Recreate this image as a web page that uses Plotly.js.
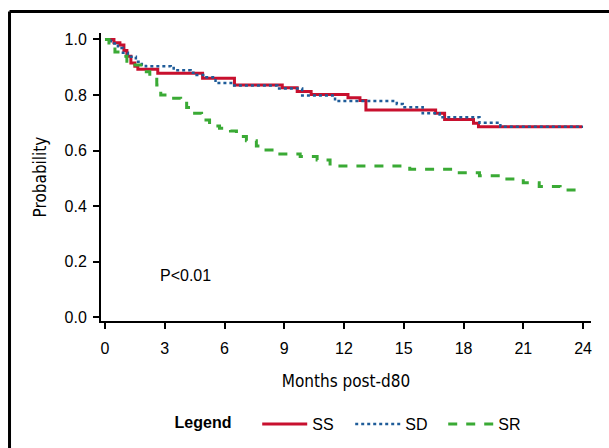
<!DOCTYPE html>
<html>
<head>
<meta charset="utf-8">
<script src="https://cdn.plot.ly/plotly-3.0.1.min.js"></script>
<style>html,body{margin:0;padding:0;background:#fff;}#chart{width:609px;height:448px;}</style>
</head>
<body>
<div id="chart"></div>
<script>
// Kaplan-Meier style step data (months post-d80, probability)
const ssMonths = [0, 0.45, 0.75, 0.95, 1.1, 1.3, 1.5, 1.65, 2.65, 4.9, 6.5, 8.9, 9.65, 10.35, 12.2, 12.8, 13.1, 16.6, 17.05, 18.5, 18.75, 23.95];
const ssProb   = [1.0, 0.988, 0.98, 0.96, 0.94, 0.915, 0.904, 0.893, 0.878, 0.86, 0.836, 0.826, 0.813, 0.802, 0.79, 0.78, 0.746, 0.734, 0.712, 0.698, 0.686, 0.686];

const sdMonths = [0, 0.3, 0.65, 0.9, 1.15, 1.55, 1.85, 2.05, 3.3, 3.45, 4.3, 4.6, 5.0, 5.55, 6.4, 8.65, 9.9, 11.55, 14.65, 14.95, 15.95, 16.8, 18.8, 19.85, 24.0];
const sdProb   = [1.0, 0.986, 0.969, 0.952, 0.938, 0.92, 0.91, 0.904, 0.897, 0.889, 0.88, 0.872, 0.864, 0.843, 0.834, 0.823, 0.798, 0.778, 0.768, 0.756, 0.734, 0.72, 0.70, 0.686, 0.686];

const srMonths = [0, 0.2, 0.5, 0.8, 1.1, 1.4, 1.9, 2.25, 2.6, 2.8, 3.3, 3.8, 4.1, 4.5, 4.85, 5.25, 5.75, 6.3, 6.6, 7.1, 7.6, 8.0, 8.5, 9.8, 10.65, 11.3, 15.3, 17.6, 18.8, 20.0, 21.0, 21.8, 22.85, 24.0];
const srProb   = [1.0, 0.975, 0.955, 0.94, 0.922, 0.908, 0.884, 0.863, 0.836, 0.80, 0.788, 0.777, 0.755, 0.734, 0.71, 0.688, 0.68, 0.67, 0.65, 0.635, 0.616, 0.602, 0.587, 0.578, 0.566, 0.544, 0.532, 0.52, 0.509, 0.497, 0.484, 0.47, 0.458, 0.458];

const seriesNames = ['SS', 'SD', 'SR'];
const xTicks = [0, 3, 6, 9, 12, 15, 18, 21, 24];
const yTicks = [0.0, 0.2, 0.4, 0.6, 0.8, 1.0];
const yTickText = ['0.0', '0.2', '0.4', '0.6', '0.8', '1.0'];

const traces = [
  {x: ssMonths, y: ssProb, name: seriesNames[0], mode: 'lines', line: {shape: 'hv', color: '#c8102e', width: 3}},
  {x: sdMonths, y: sdProb, name: seriesNames[1], mode: 'lines', line: {shape: 'hv', color: '#1f5c99', width: 2.5, dash: 'dot'}},
  {x: srMonths, y: srProb, name: seriesNames[2], mode: 'lines', line: {shape: 'hv', color: '#3aaa35', width: 3, dash: 'dash'}}
];

const tickFont = {family: 'Liberation Sans, Arial, sans-serif', size: 16, color: '#000'};
const narrow = 'DejaVu Sans Condensed, Liberation Sans Narrow, sans-serif';

const layout = {
  width: 609, height: 448,
  margin: {l: 101, r: 18, t: 33, b: 127, autoexpand: false},
  paper_bgcolor: '#fff', plot_bgcolor: '#fff',
  showlegend: true,
  xaxis: {
    range: [-0.2, 24.4], tickvals: xTicks, ticktext: xTicks.map(String), automargin: false,
    showgrid: false, zeroline: false, showline: true, linecolor: '#000', linewidth: 2,
    ticks: 'outside', ticklen: 6, tickwidth: 2, tickcolor: '#000', tickfont: tickFont,
    ticklabelstandoff: 6,
    title: {text: 'Months post-d80', font: {family: narrow, size: 17, color: '#000'}, standoff: 19}
  },
  yaxis: {
    range: [-0.0144, 1.0234], tickvals: yTicks, ticktext: yTickText, automargin: false,
    showgrid: false, zeroline: false, showline: true, linecolor: '#000', linewidth: 2,
    ticks: 'outside', ticklen: 6, tickwidth: 2, tickcolor: '#000', tickfont: tickFont,
    ticklabelstandoff: 3,
    title: {text: 'Probability', font: {family: narrow, size: 17, color: '#000'}, standoff: 14}
  },
  legend: {
    orientation: 'h', x: 0.146, xanchor: 'left', yref: 'container', y: 0.0536, yanchor: 'middle',
    font: {family: 'Liberation Sans, Arial, sans-serif', size: 16, color: '#000'},
    title: {text: '<b>Legend</b>&nbsp;&nbsp;&nbsp;&nbsp;', side: 'left', font: {family: 'Liberation Sans, Arial, sans-serif', size: 16, color: '#000'}},
    itemwidth: 45, entrywidth: 33, entrywidthmode: 'pixels', bgcolor: 'rgba(0,0,0,0)'
  },
  annotations: [
    {x: 2.66, y: 0.151, xref: 'x', yref: 'y', text: 'P<0.01', showarrow: false, xanchor: 'left', yanchor: 'middle',
     font: {family: 'Liberation Sans, Arial, sans-serif', size: 16, color: '#000'}}
  ],
  shapes: [
    {type: 'line', xref: 'paper', yref: 'paper', x0: -0.1867, x1: 1.06, y0: 1.0747, y1: 1.0747, line: {color: '#000', width: 3}},
    {type: 'line', xref: 'paper', yref: 'paper', x0: -0.1867, x1: -0.1867, y0: 1.0747, y1: -0.5, line: {color: '#000', width: 3}}
  ]
};

Plotly.newPlot('chart', traces, layout, {staticPlot: true, displayModeBar: false});
</script>
</body>
</html>
